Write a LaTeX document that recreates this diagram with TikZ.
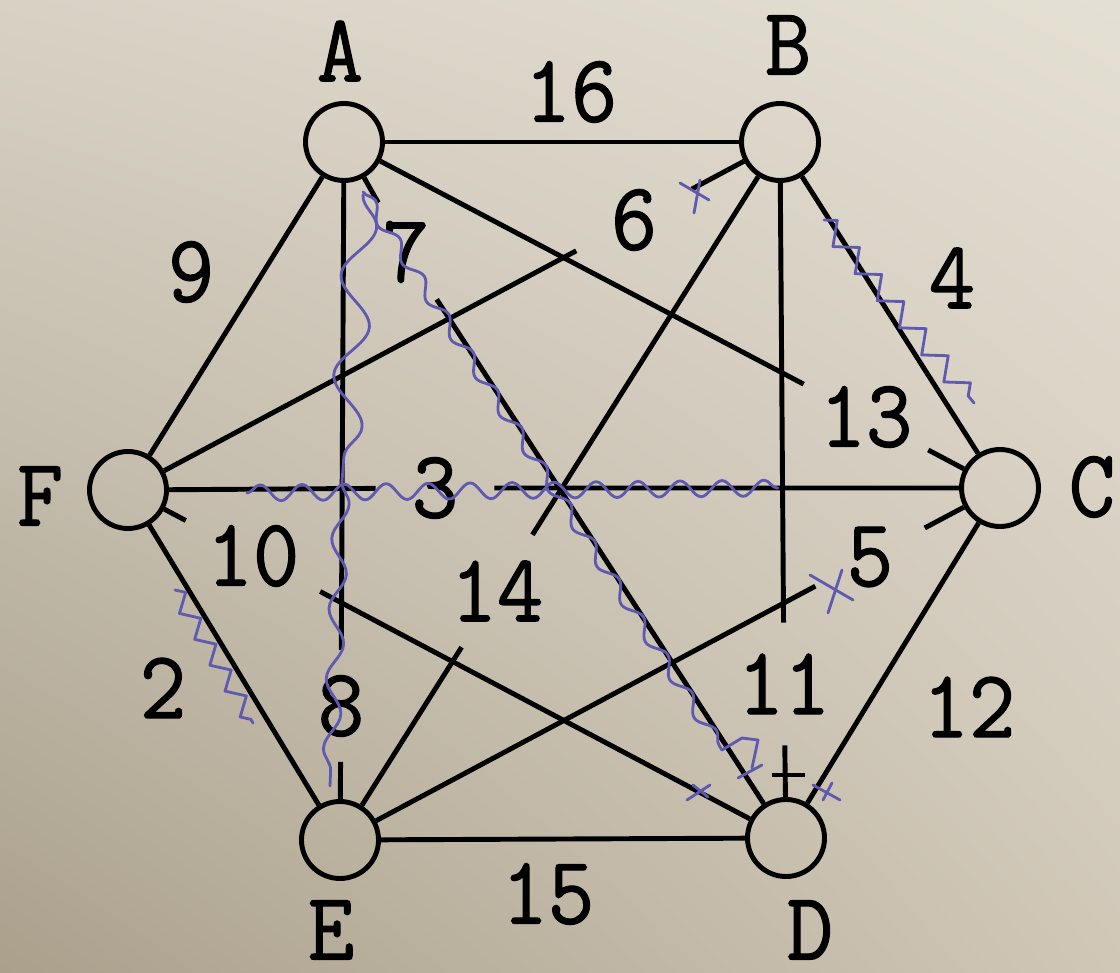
\documentclass[tikz,border=0pt]{standalone}
\usepackage{fontspec}
\newfontfamily\pixfont{Latin Modern Mono}[FakeStretch=0.93,FakeBold=1.2]
\usetikzlibrary{decorations.pathmorphing,shadings}
\definecolor{ink}{RGB}{95,90,175}
\definecolor{paperUL}{RGB}{216,210,197}
\definecolor{paperUR}{RGB}{228,223,212}
\definecolor{paperLL}{RGB}{170,160,140}
\definecolor{paperLR}{RGB}{208,199,183}

\begin{document}
\begin{tikzpicture}[line width=1.4pt]
  \tikzstyle{vertex}=[draw,circle,minimum size=0.77cm,inner sep=0pt]
  \tikzstyle{tag}=[font=\pixfont\fontsize{27.5pt}{27.5pt}\selectfont,inner sep=0pt]
  \tikzstyle{wt}=[tag,circle]
  \tikzstyle{pen}=[draw=ink,line width=0.8pt,line cap=round,line join=round]
  \shade[upper left=paperUL,upper right=paperUR,lower left=paperLL,lower right=paperLR] (0,0) rectangle (11.2,9.72);
  \useasboundingbox (0,0) rectangle (11.2,9.72);
  % vertices
  \node[vertex] (A) at (3.44,8.30) {};
  \node[vertex] (B) at (7.80,8.30) {};
  \node[vertex] (C) at (10.00,4.84) {};
  \node[vertex] (D) at (7.86,1.34) {};
  \node[vertex] (E) at (3.40,1.32) {};
  \node[vertex] (F) at (1.28,4.82) {};
  \node[tag] (nA) at (3.40,9.21) {A};
  \node[tag] (nB) at (7.88,9.27) {B};
  \node[tag] (nC) at (10.92,4.85) {C};
  \node[tag] (nD) at (8.10,0.42) {D};
  \node[tag] (nE) at (3.31,0.42) {E};
  \node[tag] (nF) at (0.40,4.76) {F};
  % outer edges
  \draw (A) -- (B);
  \draw (B) -- (C);
  \draw (C) -- (D);
  \draw (D) -- (E);
  \draw (E) -- (F);
  \draw (F) -- (A);
  \node[tag] (w16) at (5.71,8.80) {16};
  \node[tag] (w4) at (9.52,6.94) {4};
  \node[tag] (w12) at (9.69,2.65) {12};
  \node[tag] (w15) at (5.48,0.78) {15};
  \node[tag] (w2) at (1.63,2.84) {2};
  \node[tag] (w9) at (1.91,7.00) {9};
  % inner edges, the weight sits in a gap
  \node[wt,minimum size=1.14cm] (w3) at (4.35,4.84) {3};
  \node[wt,minimum size=1.08cm] (w7) at (4.06,7.20) {7};
  \node[wt,minimum size=1.26cm] (w6) at (6.34,7.52) {6};
  \node[wt,minimum size=1.36cm] (w13) at (8.66,5.55) {13};
  \node[wt,minimum size=1.47cm] (w10) at (2.53,4.16) {10};
  \node[wt,minimum size=1.28cm] (w14) at (4.97,3.81) {14};
  \node[wt,minimum size=1.19cm] (w5) at (8.70,4.15) {5};
  \node[wt,minimum size=1.07cm] (w8) at (3.41,2.66) {8};
  \node[wt,minimum size=1.18cm] (w11) at (7.84,2.88) {11};
  \draw (F) -- (w3) (w3) -- (C);
  \draw (A) -- (w7) (w7) -- (D);
  \draw (F) -- (w6) (w6) -- (B);
  \draw (A) -- (w13) (w13) -- (C);
  \draw (F) -- (w10) (w10) -- (D);
  \draw (E) -- (w14) (w14) -- (B);
  \draw (E) -- (w5) (w5) -- (C);
  \draw (A) -- (w8) (w8) -- (E);
  \draw (B) -- (w11) (w11) -- (D);
  \draw (7.72,1.97) -- (8.05,1.97);
  % pen marks
  \draw[pen,decorate,decoration={snake,amplitude=1.6mm,segment length=10mm}] (3.63,7.77) -- (3.42,4.90);
  \draw[pen,decorate,decoration={snake,amplitude=0.8mm,segment length=7mm}] (3.42,4.90) -- (3.30,1.86);
  \draw[pen,decorate,decoration={snake,amplitude=0.6mm,segment length=4.5mm}] (3.63,7.80) -- (7.22,2.22);
  \draw[pen] (7.22,2.22) -- (7.42,2.34) -- (7.58,2.32) -- (7.52,2.04);
  \draw[pen,decorate,decoration={zigzag,amplitude=1mm,segment length=3.5mm}] (8.24,7.52) -- (9.74,5.69);
  \draw[pen,decorate,decoration={zigzag,amplitude=0.8mm,segment length=3mm}] (1.75,3.82) -- (2.53,2.49);
  \draw[pen,decorate,decoration={snake,amplitude=0.8mm,segment length=4.2mm}] (2.47,4.79) -- (7.78,4.84);
  \draw[pen] (6.80,7.89) -- (7.09,7.72) (6.94,7.59) -- (7.00,7.92);
  \draw[pen] (8.10,3.97) -- (8.53,3.72) (8.28,3.59) -- (8.42,4.02);
  \draw[pen] (8.13,1.87) -- (8.40,1.72) (8.23,1.72) -- (8.32,1.89);
  \draw[pen] (6.87,1.72) -- (7.10,1.87) (6.93,1.87) -- (7.08,1.75);
  \draw[pen] (7.38,1.94) -- (7.62,2.07);
\end{tikzpicture}
\end{document}
